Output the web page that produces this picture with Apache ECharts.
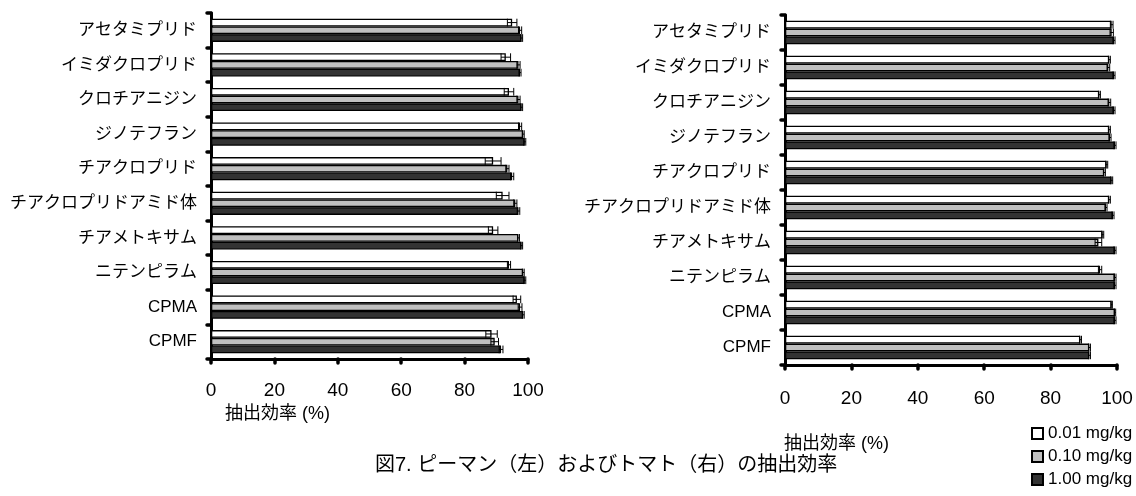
<!DOCTYPE html>
<html>
<head>
<meta charset="utf-8">
<script src="https://cdn.jsdelivr.net/npm/echarts@6/dist/echarts.min.js"></script>
<style>
  html, body { margin: 0; padding: 0; background: #fff; }
  #chart { width: 1136px; height: 496px; }
</style>
</head>
<body>
<div id="chart"></div>
<script>
// compounds, top to bottom
const compounds = ['アセタミプリド', 'イミダクロプリド', 'クロチアニジン', 'ジノテフラン', 'チアクロプリド',
  'チアクロプリドアミド体', 'チアメトキサム', 'ニテンピラム', 'CPMA', 'CPMF'];
const doses = ['0.01 mg/kg', '0.10 mg/kg', '1.00 mg/kg'];
const xTicks = [0, 20, 40, 60, 80, 100];

// ピーマン (left)
const pepperLow = [95, 93, 94, 97.5, 89, 92, 89, 94, 96.5, 88.5];
const pepperLowErr = [1.5, 1.5, 1.5, 0.5, 2.5, 2, 1.5, 0.5, 1.2, 1.8];
const pepperMid = [97.5, 97, 97, 98.5, 93.5, 96, 97, 98.5, 97.5, 89.5];
const pepperMidErr = [0.5, 0.5, 0.5, 0.3, 0.5, 0.5, 0.3, 0.3, 0.6, 1.2];
const pepperHigh = [98, 97.5, 98, 99, 95, 97, 98, 99, 98.5, 91.5];
const pepperHighErr = [0.3, 0.3, 0.3, 0.3, 0.5, 0.4, 0.3, 0.3, 0.3, 0.6];

// トマト (right)
const tomatoLow = [98.4, 97.7, 94.7, 97.7, 96.9, 97.7, 95.7, 94.9, 98.4, 89.0];
const tomatoLowErr = [0.4, 0.3, 0.3, 0.3, 0.3, 0.3, 0.3, 0.5, 0.2, 0.3];
const tomatoMid = [98.4, 97.4, 97.7, 97.9, 96.2, 96.7, 94.4, 99.4, 99.4, 91.7];
const tomatoMidErr = [0.5, 0.4, 0.4, 0.3, 0.3, 0.3, 1.0, 0.3, 0.2, 0.3];
const tomatoHigh = [99.1, 99.1, 99.1, 99.4, 98.4, 98.8, 99.4, 99.4, 99.4, 91.7];
const tomatoHighErr = [0.3, 0.3, 0.3, 0.3, 0.3, 0.3, 0.3, 0.3, 0.3, 0.3];

const FONT = '"Liberation Sans", "Noto Sans CJK JP", sans-serif';
const fills = ['#ffffff', '#c0c0c0', '#333333'];
const CAT_GAP = 0.33;

const chart = echarts.init(document.getElementById('chart'));

function xAxisFor(gridIndex) {
  return {
    gridIndex, type: 'value', min: 0, max: 100, interval: 20,
    splitLine: { show: false },
    axisLine: { show: true, lineStyle: { color: '#000', width: 3 } },
    axisTick: { show: true, inside: false, length: 4, lineStyle: { color: '#000', width: 3.5, cap: 'round' } },
    axisLabel: { color: '#000', fontSize: 19, fontFamily: FONT, margin: gridIndex === 0 ? 22 : 24,
      formatter: v => xTicks.includes(v) ? String(v) : '' }
  };
}

function yAxisFor(gridIndex) {
  return {
    gridIndex, type: 'category', data: compounds, inverse: true,
    axisLine: { show: true, lineStyle: { color: '#000', width: 3 } },
    axisTick: { show: true, inside: false, length: 4, lineStyle: { color: '#000', width: 3.5, cap: 'round' } },
    axisLabel: { color: '#000', fontSize: 17, fontFamily: FONT, margin: 14 }
  };
}

function barSeries(gridIndex, k, values) {
  return {
    name: doses[k], type: 'bar', xAxisIndex: gridIndex, yAxisIndex: gridIndex,
    data: values, barGap: 0, barCategoryGap: (CAT_GAP * 100) + '%',
    itemStyle: { color: fills[k], borderColor: '#000', borderWidth: 1.3 },
    emphasis: { disabled: true }, animation: false
  };
}

function errSeries(gridIndex, k, values, errs) {
  return {
    type: 'custom', xAxisIndex: gridIndex, yAxisIndex: gridIndex,
    encode: { x: 1, y: 0 }, z: 5, silent: true, animation: false,
    data: values.map((v, i) => [i, v, errs[i]]),
    renderItem: (params, api) => {
      const cat = api.value(0), mean = api.value(1), err = api.value(2);
      const c = api.coord([mean, cat]);
      const band = api.size([0, 1])[1];
      const w = band * (1 - CAT_GAP) / 3;
      const y = c[1] - 1.5 * w + (k + 0.5) * w;
      const xa = api.coord([mean - err, cat])[0];
      const xb = api.coord([mean + err, cat])[0];
      const h = w / 2;
      const st = { stroke: '#000', lineWidth: 1 };
      return {
        type: 'group', children: [
          { type: 'line', shape: { x1: xa, y1: y, x2: xb, y2: y }, style: st },
          { type: 'line', shape: { x1: xa, y1: y - h, x2: xa, y2: y + h }, style: st },
          { type: 'line', shape: { x1: xb, y1: y - h, x2: xb, y2: y + h }, style: st }
        ]
      };
    }
  };
}

const pepperSets = [[pepperLow, pepperLowErr], [pepperMid, pepperMidErr], [pepperHigh, pepperHighErr]];
const tomatoSets = [[tomatoLow, tomatoLowErr], [tomatoMid, tomatoMidErr], [tomatoHigh, tomatoHighErr]];

const series = [];
[pepperSets, tomatoSets].forEach((sets, g) => {
  sets.forEach((s, k) => series.push(barSeries(g, k, s[0])));
  sets.forEach((s, k) => series.push(errSeries(g, k, s[0], s[1])));
});

chart.setOption({
  backgroundColor: '#fff',
  textStyle: { fontFamily: FONT },
  grid: [
    { left: 211, top: 13, width: 317, height: 346 },
    { left: 785, top: 15, width: 332, height: 350 }
  ],
  xAxis: [xAxisFor(0), xAxisFor(1)],
  yAxis: [yAxisFor(0), yAxisFor(1)],
  legend: {
    data: doses, orient: 'vertical', left: 1031, top: 425, padding: 0,
    icon: 'rect', itemWidth: 11, itemHeight: 11, itemGap: 6,
    textStyle: { color: '#000', fontSize: 17, fontFamily: FONT }
  },
  graphic: [
    { type: 'text', left: 225, top: 405, style: { text: '抽出効率 (%)', font: '18px ' + FONT, fill: '#000' } },
    { type: 'text', left: 784, top: 435, style: { text: '抽出効率 (%)', font: '18px ' + FONT, fill: '#000' } },
    { type: 'text', left: 375, top: 455, style: { text: '図7. ピーマン（左）およびトマト（右）の抽出効率', font: '20px ' + FONT, fill: '#000' } }
  ],
  series
});
</script>
</body>
</html>
